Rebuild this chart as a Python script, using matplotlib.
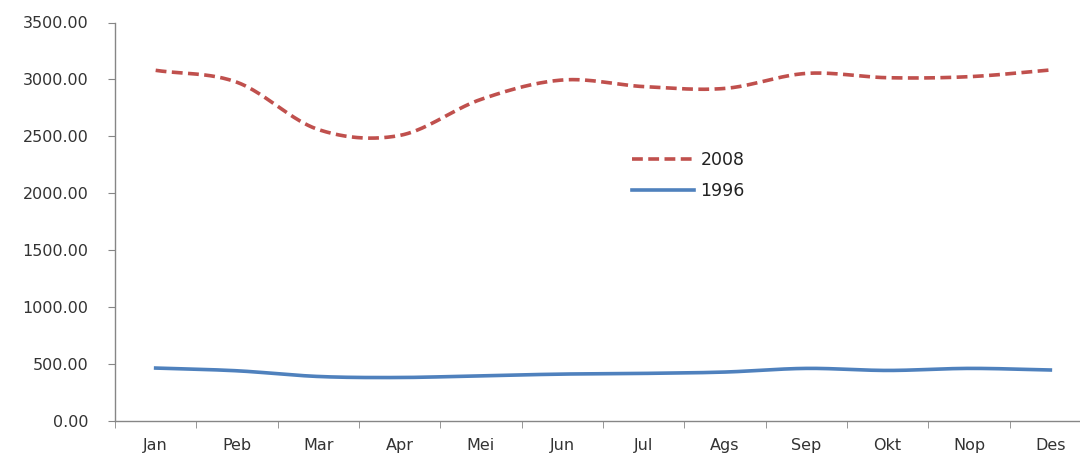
import numpy as np
import matplotlib
matplotlib.use("Agg")
import matplotlib.pyplot as plt

months = ["Jan", "Peb", "Mar", "Apr", "Mei", "Jun", "Jul", "Ags", "Sep", "Okt", "Nop", "Des"]
values_2008 = [3080, 2975, 2560, 2508, 2825, 2995, 2937, 2921, 3053, 3015, 3024, 3083]
values_1996 = [465, 441, 391, 382, 397, 412, 418, 430, 462, 444, 462, 448]
ytick_values = [0, 500, 1000, 1500, 2000, 2500, 3000, 3500]


def smooth(y, n=40):
    """Catmull-Rom spline through the points (like Excel's smoothed line)."""
    y = np.asarray(y, dtype=float)
    x = np.arange(len(y), dtype=float)
    p = np.concatenate([[2 * y[0] - y[1]], y, [2 * y[-1] - y[-2]]])
    xs, ys = [], []
    for i in range(len(y) - 1):
        p0, p1, p2, p3 = p[i], p[i + 1], p[i + 2], p[i + 3]
        t = np.linspace(0, 1, n, endpoint=False)
        seg = 0.5 * ((2 * p1) + (-p0 + p2) * t + (2 * p0 - 5 * p1 + 4 * p2 - p3) * t ** 2
                     + (-p0 + 3 * p1 - 3 * p2 + p3) * t ** 3)
        xs.append(x[i] + t)
        ys.append(seg)
    xs.append([x[-1]])
    ys.append([y[-1]])
    return np.concatenate(xs), np.concatenate(ys)


plt.rcParams["font.family"] = ["DejaVu Sans"]
fig = plt.figure(figsize=(10.8, 4.55), dpi=100)
ax = fig.add_axes([115 / 1080, 1 - 421 / 455, 976 / 1080, 398.5 / 455])

red = "#C0504D"
blue = "#4F81BD"
x8, y8 = smooth(values_2008)
x6, y6 = smooth(values_1996)
ax.plot(x8, y8, color=red, lw=2.6, dashes=(3, 1.5), label="2008", solid_capstyle="butt")
ax.plot(x6, y6, color=blue, lw=2.6, label="1996")

ax.set_xlim(-0.5, len(months) - 0.5)
ax.set_ylim(0, 3500)
ax.set_yticks(ytick_values)
ax.set_yticklabels([f"{v:.2f}" for v in ytick_values], fontsize=11.5, color="#333333")
ax.set_xticks(range(len(months)))
ax.set_xticklabels(months, fontsize=11.5, color="#333333")
ax.set_xticks(np.arange(-0.5, len(months) + 0.5, 1), minor=True)
ax.tick_params(axis="x", which="major", length=0, pad=12)
ax.tick_params(axis="x", which="minor", length=5, color="#868686")
ax.tick_params(axis="y", length=5, color="#868686", pad=14)

for s in ["top", "right"]:
    ax.spines[s].set_visible(False)
for s in ["left", "bottom"]:
    ax.spines[s].set_color("#868686")
    ax.spines[s].set_linewidth(1.0)

leg = ax.legend(loc="upper left", bbox_to_anchor=((632 - 115) / 976, (421 - 151) / 398.5),
                frameon=False, fontsize=12.5, handlelength=3.6, handletextpad=0.35,
                labelspacing=0.75, borderaxespad=0, borderpad=0)
for t in leg.get_texts():
    t.set_color("#222222")

fig.savefig("out.png", dpi=100)
